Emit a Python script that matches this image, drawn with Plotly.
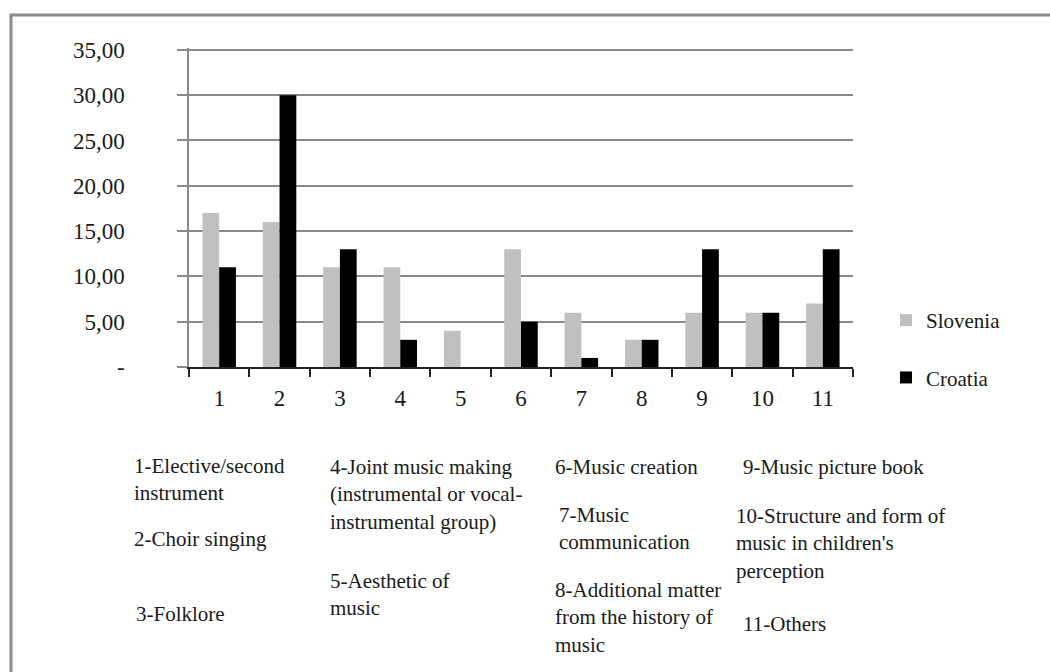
import plotly.graph_objects as go

# Activity categories and shares (%) per country
categories = ["1", "2", "3", "4", "5", "6", "7", "8", "9", "10", "11"]
slovenia = [17, 16, 11, 11, 4, 13, 6, 3, 6, 6, 7]
croatia = [11, 30, 13, 3, 0, 5, 1, 3, 13, 6, 13]

y_ticks = [0, 5, 10, 15, 20, 25, 30, 35]
y_tick_text = ["-", "5,00", "10,00", "15,00", "20,00", "25,00", "30,00", "35,00"]

# Key explaining the category numbers: (text, left px, first-baseline px)
category_notes = [
    ("1-Elective/second<br>instrument", 132, 472),
    ("2-Choir singing", 132, 545),
    ("3-Folklore", 134, 620),
    ("4-Joint music making<br>(instrumental or vocal-<br>instrumental group)", 328, 473),
    ("5-Aesthetic of<br>music", 328, 587),
    ("6-Music creation", 553, 473),
    ("7-Music<br>communication", 557, 521),
    ("8-Additional matter<br>from the history of<br>music", 553, 596),
    ("9-Music picture book", 741, 473),
    ("10-Structure and form of<br>music in children's<br>perception", 734, 522),
    ("11-Others", 741, 630),
]

W, H = 1050, 672
L, R, T, B = 189, 853, 48, 367
Y_MAX = 35.2
FONT = "Liberation Serif, Times New Roman, serif"
TXT = "#1a1a1a"
FS = 21
TICK_FS = 23


def px(x):
    return (x - L) / (R - L)


def py(y):
    return (B - y) / (B - T)


fig = go.Figure()
fig.add_trace(go.Bar(x=categories, y=slovenia, name="Slovenia",
                     marker=dict(color="#c0c0c0", line=dict(width=0)),
                     legendgroup="a"))
fig.add_trace(go.Bar(x=categories, y=croatia, name="Croatia",
                     marker=dict(color="#000000", line=dict(width=0)),
                     legendgroup="b"))

annotations = []
for text, x, base in category_notes:
    annotations.append(dict(
        text=text, x=px(x), y=py(base - 20), xref="paper", yref="paper",
        xanchor="left", yanchor="top", align="left", showarrow=False,
        font=dict(family=FONT, size=FS, color=TXT),
    ))

fig.update_layout(
    width=W, height=H,
    margin=dict(l=L, r=W - R, t=T, b=H - B),
    paper_bgcolor="white", plot_bgcolor="white",
    barmode="group", bargap=0.445, bargroupgap=0,
    font=dict(family=FONT, size=FS, color=TXT),
    showlegend=True,
    legend=dict(x=px(886), y=py(300), xanchor="left", yanchor="top",
                font=dict(family=FONT, size=FS, color=TXT),
                tracegroupgap=27, traceorder="grouped",
                bgcolor="rgba(0,0,0,0)"),
    annotations=annotations,
    shapes=[dict(type="rect", xref="paper", yref="paper",
                 x0=px(11), x1=px(1200), y0=py(15), y1=py(800),
                 line=dict(color="#8a8a8a", width=3), layer="below")],
)

fig.update_xaxes(
    type="category", showgrid=False, showline=True, linecolor="#222",
    linewidth=1.5, ticks="outside", tickson="boundaries", ticklen=8,
    tickcolor="#222", tickwidth=1.5, ticklabelstandoff=10,
    tickfont=dict(family=FONT, size=TICK_FS, color=TXT),
)
fig.update_yaxes(
    range=[0, Y_MAX], tickvals=y_ticks, ticktext=y_tick_text,
    showgrid=True, gridcolor="#8a8a8a", gridwidth=1.5,
    showline=True, linecolor="#8a8a8a", linewidth=1.5,
    ticks="outside", ticklen=10, tickcolor="#8a8a8a", tickwidth=1.5,
    zeroline=False, ticklabelstandoff=48,
    tickfont=dict(family=FONT, size=TICK_FS, color=TXT),
)

fig.write_html("out.html")
